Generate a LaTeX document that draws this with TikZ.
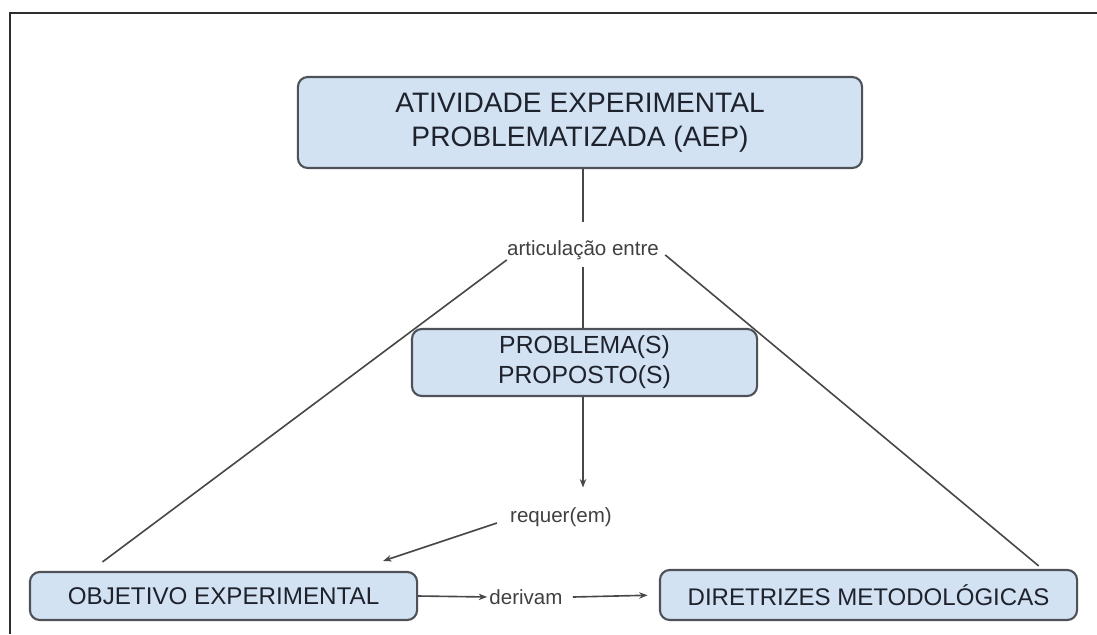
\documentclass[tikz,border=0pt]{standalone}
\usepackage{fontspec}
\setmainfont{Liberation Sans}
\usetikzlibrary{arrows.meta,calc}

\definecolor{boxfill}{RGB}{210,226,243}
\definecolor{boxline}{RGB}{78,82,88}
\definecolor{ink}{RGB}{30,34,44}
\definecolor{wirecol}{RGB}{72,72,74}
\definecolor{framecol}{RGB}{45,45,45}

\begin{document}
\begin{tikzpicture}[x=0.025cm,y=-0.025cm,
  concept/.style={draw=boxline, line width=1.5pt, fill=boxfill,
    rounded corners=7pt, text=ink, align=center, inner sep=0pt},
  linkword/.style={text=black!75, inner sep=0pt,
    font=\fontsize{14.6}{17}\selectfont},
  wire/.style={draw=wirecol, line width=1.15pt},
  arr/.style={wire, -{Stealth[length=6pt,width=4.6pt]}}]

  % page extent and outer frame
  \useasboundingbox (0,0) rectangle (1097,634);
  \draw[framecol, line width=1.7pt] (1097,13) -- (10,13) -- (10,634);

  % concepts
  \node[concept, minimum width=14.1cm, minimum height=2.275cm,
        font=\fontsize{20}{24.2}\selectfont] (aep) at (580,122.5)
        {ATIVIDADE EXPERIMENTAL\\PROBLEMATIZADA (AEP)};
  \node[concept, minimum width=8.625cm, minimum height=1.675cm,
        font=\fontsize{17.6}{21.3}\selectfont] (prob) at (584.5,362.5)
        {PROBLEMA(S)\\PROPOSTO(S)};
  \node[concept, minimum width=9.675cm, minimum height=1.2cm,
        font=\fontsize{17.2}{20}\selectfont] (obj) at (223.5,596)
        {OBJETIVO EXPERIMENTAL};
  \node[concept, minimum width=10.425cm, minimum height=1.25cm,
        font=\fontsize{17.1}{20}\selectfont] (dir) at (868.5,595)
        {DIRETRIZES METODOLÓGICAS};

  % linking words
  \node[linkword] (art) at (583,250) {articulação entre};
  \node[linkword] (req) at (561,517) {requer(em)};
  \node[linkword] (der) at (526,597) {derivam};

  % connectors
  \draw[wire] (aep.south -| art.north) -- ($(art.north)+(0,-18)$);
  \draw[wire] ($(art.south)+(0,7)$) -- (art.south |- prob.north);
  \draw[wire] (art.south west) --
        ($($(obj.north west)!0.189!(obj.north east)$)+(0,-9)$);
  \draw[wire] ($(art.south east)+(6,-5)$) --
        ($($(dir.north west)!0.906!(dir.north east)$)+(0,-3)$);

  \draw[arr, shorten >=14pt] (art.south |- prob.south) -- (art.south |- req.north);
  \draw[arr] ($(req.west)+(-13,6)$) -- ($(obj.north east)+(-35,-10)$);
  \draw[arr, shorten >=1.5pt] (obj.east) -- (der.west);
  \draw[arr, shorten >=8pt] ($(der.east)+(10,0)$) -- (dir.west);
\end{tikzpicture}
\end{document}
